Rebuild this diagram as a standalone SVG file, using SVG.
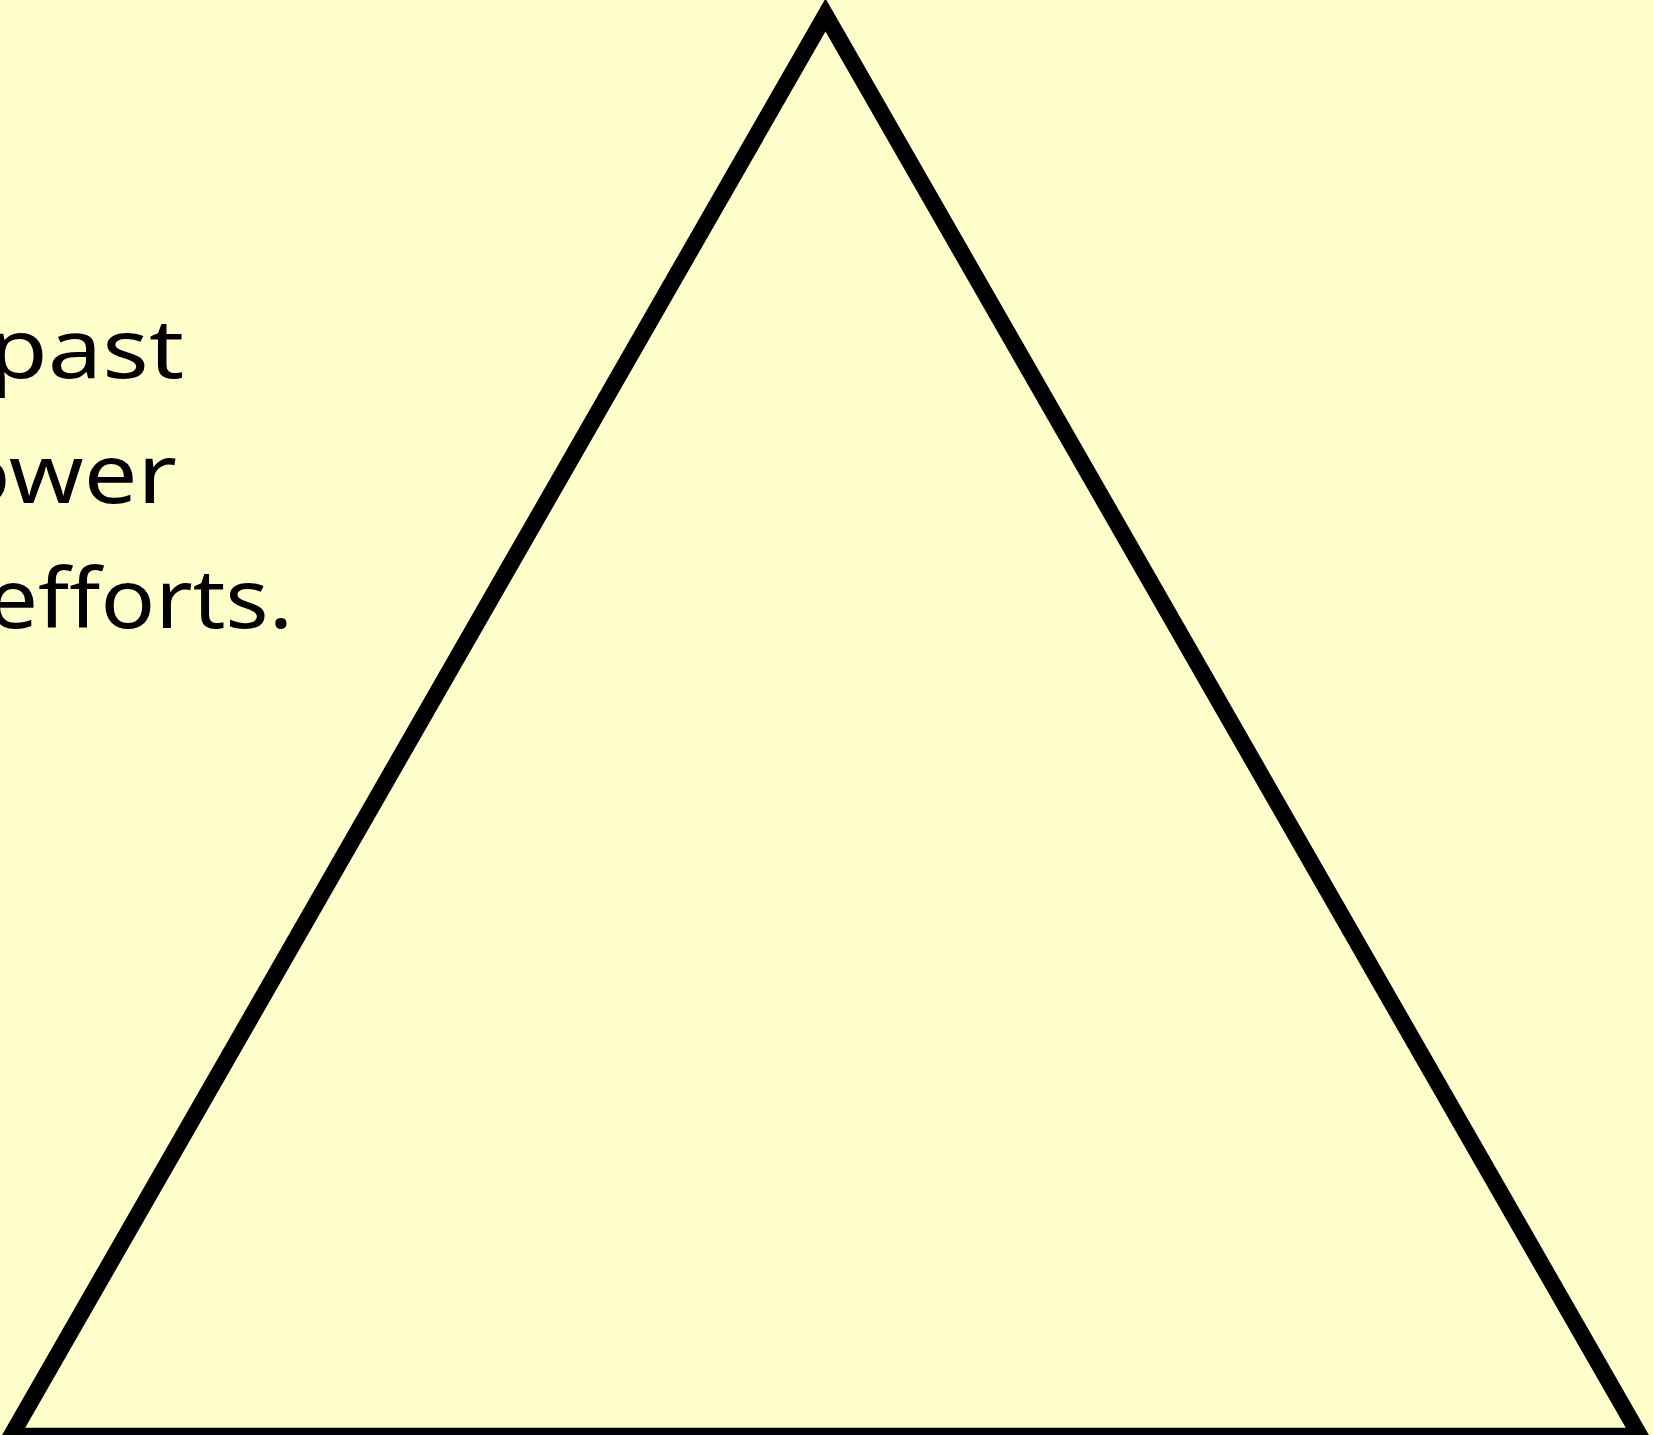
<svg xmlns="http://www.w3.org/2000/svg" width="1653" height="1435" viewBox="0 0 1653 1435">
  <style>
    .lbl { font-family: "Noto Sans", "Open Sans", sans-serif; font-size: 82px; font-weight: 400; fill: #000; }
    .tri { fill: none; stroke: #000; stroke-width: 16.5; stroke-linejoin: miter; stroke-miterlimit: 10; }
  </style>
  <rect x="0" y="0" width="1653" height="1435" fill="#ffffcc"/>
  <g id="text">
    <text class="lbl" x="184" y="378" text-anchor="end" textLength="196" lengthAdjust="spacingAndGlyphs">past</text>
    <text class="lbl" x="177" y="503" text-anchor="end" textLength="224" lengthAdjust="spacingAndGlyphs">ower</text>
    <text class="lbl" x="293" y="628" text-anchor="end" textLength="306" lengthAdjust="spacingAndGlyphs">efforts.</text>
  </g>
  <g id="triangle">
    <polygon class="tri" points="825.5,15 11,1436 1640,1436"/>
  </g>
</svg>
